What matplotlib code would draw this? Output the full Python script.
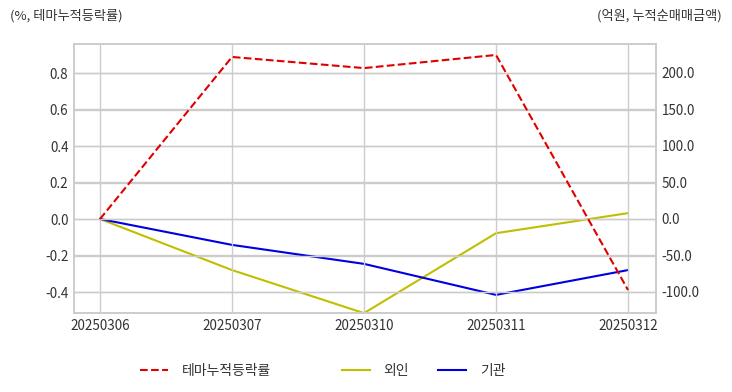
import matplotlib
matplotlib.use("Agg")
import matplotlib.pyplot as plt

plt.rcParams['font.family'] = ['Noto Sans CJK KR', 'DejaVu Sans']

dates = ["20250306", "20250307", "20250310", "20250311", "20250312"]
theme_rate = [0.0, 0.888, 0.827, 0.899, -0.389]
foreign = [0.0, -70.0, -129.0, -19.5, 8.0]
institution = [0.0, -35.5, -61.5, -104.0, -70.0]

fig = plt.figure(figsize=(7.32, 3.92), dpi=100)
ax = fig.add_axes([74/732, 1-313/392, (656-74)/732, (313-44)/392])
ax2 = ax.twinx()

x = list(range(len(dates)))
grid_c = '#cccccc'
for a in (ax, ax2):
    a.set_facecolor('none')
    for s in a.spines.values():
        s.set_color(grid_c)
        s.set_linewidth(1.2)
    a.tick_params(length=0, labelsize=9.7, colors='#333333', pad=4)
    a.grid(True, color=grid_c, linewidth=1.0)
ax.set_zorder(ax2.get_zorder() + 1)
ax.patch.set_visible(False)

l1, = ax.plot(x, theme_rate, color='#e00000', linestyle='--', linewidth=1.5, label='테마누적등락률')
l2, = ax2.plot(x, foreign, color='#bfbf00', linewidth=1.5, label='외인')
l3, = ax2.plot(x, institution, color='#0000e0', linewidth=1.5, label='기관')

ax.set_xlim(-0.197, 4.212)
ax.set_ylim(-0.515, 0.959)
ax2.set_ylim(-128.8, 239.7)
lt = [-0.4, -0.2, 0.0, 0.2, 0.4, 0.6, 0.8]
rt = [-100, -50, 0, 50, 100, 150, 200]
ax.set_yticks(lt)
ax.set_yticklabels([f"{v:.1f}" for v in lt])
ax2.set_yticks(rt)
ax2.set_yticklabels([f"{v:.1f}" for v in rt])
ax.set_xticks(x)
ax.set_xticklabels(dates)
ax2.grid(axis='x', visible=False)

fig.text(10/732, 1-16/392, "(%, 테마누적등락률)", fontsize=9.5, color='#333333', va='center', ha='left')
fig.text(722/732, 1-16/392, "(억원, 누적순매매금액)", fontsize=9.5, color='#333333', va='center', ha='right')

leg_kw = dict(loc='center left', frameon=False, fontsize=10, handlelength=2.0,
              handletextpad=1.0, borderpad=0, borderaxespad=0, labelcolor='#333333')
fig.legend(handles=[l1], bbox_to_anchor=(140/732, 1-371/392), **leg_kw)
fig.legend(handles=[l2, l3], bbox_to_anchor=(342/732, 1-371/392), ncol=2,
           columnspacing=2.1, **leg_kw)

fig.savefig("out.png", dpi=100)
